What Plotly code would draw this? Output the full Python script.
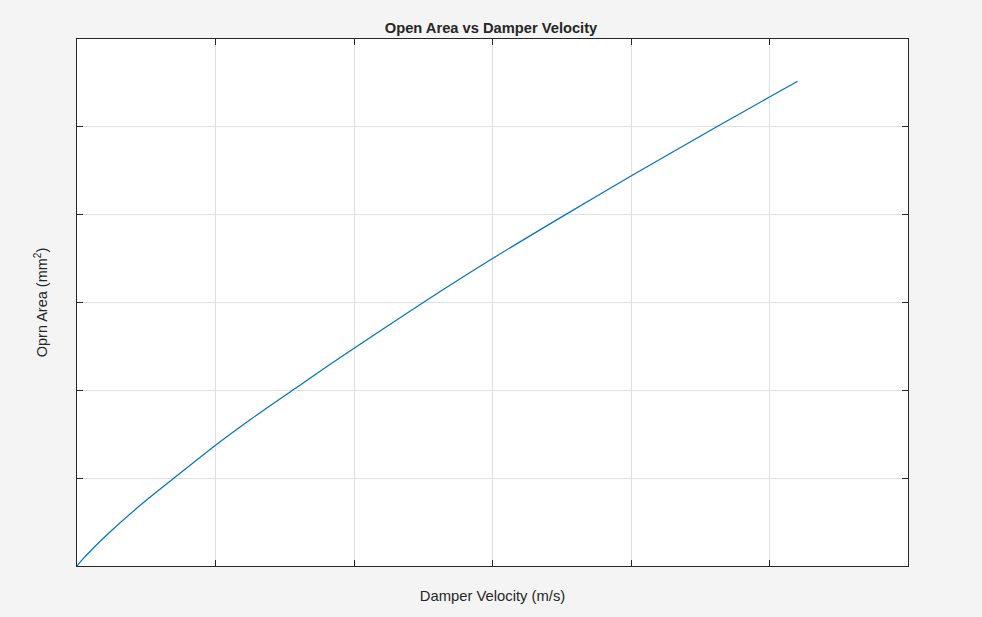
import plotly.graph_objects as go

# (arbitrary units; axis shows no tick labels)
velocity = [0, 0.04, 0.106, 0.226, 0.467, 0.708, 1.0, 1.25, 1.574, 1.887, 2.5, 3.0, 3.5, 4.0, 4.619, 5.0, 5.203]
open_area = [0, 0.075, 0.185, 0.37, 0.705, 1.01, 1.375, 1.665, 2.02, 2.36, 3.0, 3.5, 3.975, 4.44, 5.0, 5.34, 5.52]
tick_vals = [0, 1, 2, 3, 4, 5, 6]

fig = go.Figure()
fig.add_trace(go.Scatter(x=velocity, y=open_area, mode="lines",
                         line=dict(color="#0072BD", width=1.2, shape="spline", smoothing=0.8),
                         showlegend=False, hoverinfo="skip"))

axis_common = dict(
    range=[0, 6], tickvals=tick_vals, showticklabels=False,
    ticks="inside", ticklen=6, tickwidth=1, tickcolor="#262626",
    showline=True, linecolor="#262626", linewidth=1, mirror="ticks",
    showgrid=True, gridcolor="#dfdfdf", gridwidth=1, zeroline=False,
)

fig.update_layout(
    width=982, height=617,
    paper_bgcolor="#f4f4f4", plot_bgcolor="#ffffff",
    margin=dict(l=77, r=74, t=39, b=51),
    font=dict(family="Liberation Sans, Arial, sans-serif", size=13, color="#262626"),
    title=dict(text="<b>Open Area vs Damper Velocity</b>", x=0.5, xanchor="center",
               y=1 - 28 / 617, yanchor="middle", font=dict(size=14.7, color="#262626")),
    xaxis=dict(**axis_common, title=dict(text="Damper Velocity (m/s)", standoff=24,
                                         font=dict(size=14.8))),
    yaxis=dict(**axis_common, title=dict(text="Oprn Area (mm<sup>2</sup>)", standoff=24,
                                         font=dict(size=14.5))),
)

fig.write_html("out.html", config={"displayModeBar": False},
               post_script="document.body.style.margin='0';document.body.style.background='#f4f4f4';")
